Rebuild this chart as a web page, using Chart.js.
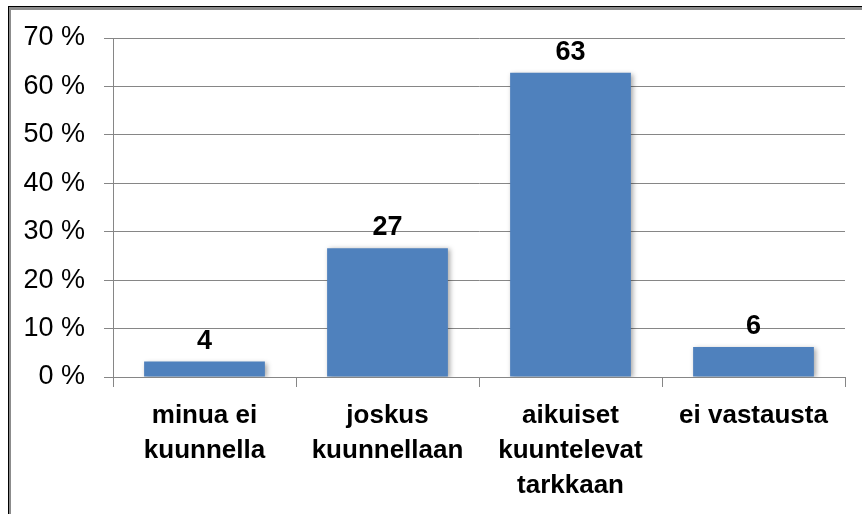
<!DOCTYPE html>
<html lang="fi">
<head>
  <meta charset="UTF-8" />
  <title>Kuunnellaanko minua</title>
  <script src="https://cdn.jsdelivr.net/npm/chart.js"></script>
  <style>
    html, body { margin: 0; padding: 0; background: #fff; overflow: hidden; }
    #wrap { position: relative; width: 862px; height: 514px; }
    #frame { position: absolute; left: 8px; top: 6px; width: 900px; height: 600px;
             border-left: 1px solid #000; border-top: 1px solid #000; pointer-events: none; }
    #frame div { width: 100%; height: 100%; border-left: 2px solid #8c8c8c; border-top: 3px solid #8c8c8c; }
  </style>
</head>
<body>
  <div id="wrap">
    <canvas id="chart" width="862" height="514"></canvas>
    <div id="frame"><div></div></div>
  </div>

  <script>
    // categories and values
    const categories = [
      ['minua ei', 'kuunnella'],
      ['joskus', 'kuunnellaan'],
      ['aikuiset', 'kuuntelevat', 'tarkkaan'],
      ['ei vastausta']
    ];
    const values = [3.2, 26.6, 62.8, 6.2];
    const valueLabels = ['4', '27', '63', '6'];
    const yTicks = [0, 10, 20, 30, 40, 50, 60, 70];

    const gridColor = '#868686';
    const fontFamily = '"Liberation Sans", Arial, sans-serif';

    // soft shadow round the bars
    const barShadow = {
      id: 'barShadow',
      beforeDatasetsDraw(chart) {
        const ctx = chart.ctx;
        ctx.save();
        ctx.shadowColor = 'rgba(0,0,0,0.35)';
        ctx.shadowBlur = 5;
        ctx.shadowOffsetX = 2;
        ctx.shadowOffsetY = 1;
      },
      afterDatasetsDraw(chart) {
        chart.ctx.restore();
      }
    };

    // value labels above each bar
    const valueLabelPlugin = {
      id: 'valueLabels',
      afterDraw(chart) {
        const ctx = chart.ctx;
        const meta = chart.getDatasetMeta(0);
        ctx.save();
        ctx.font = 'bold 27px ' + fontFamily;
        ctx.fillStyle = '#000';
        ctx.textAlign = 'center';
        ctx.textBaseline = 'alphabetic';
        meta.data.forEach((bar, i) => {
          ctx.fillText(valueLabels[i], bar.x, bar.y - 13);
        });
        ctx.restore();
      }
    };

    new Chart(document.getElementById('chart'), {
      type: 'bar',
      data: {
        labels: categories,
        datasets: [{
          data: values,
          backgroundColor: '#4F81BD',
          borderWidth: 0,
          barPercentage: 0.66,
          categoryPercentage: 1.0
        }]
      },
      options: {
        responsive: false,
        animation: false,
        layout: { padding: { left: 0, right: 17, top: 38, bottom: 0 } },
        plugins: {
          legend: { display: false },
          tooltip: { enabled: false }
        },
        scales: {
          x: {
            grid: { drawOnChartArea: false, drawTicks: true, tickLength: 10, color: gridColor, offset: true },
            border: { color: gridColor, width: 1 },
            ticks: {
              color: '#000',
              padding: 11,
              maxRotation: 0,
              autoSkip: false,
              font: { family: fontFamily, size: 26, weight: 'bold', lineHeight: 1.35 }
            },
            afterFit(scale) { scale.height = 137; }
          },
          y: {
            min: 0,
            max: 70,
            afterBuildTicks(scale) { scale.ticks = yTicks.map(v => ({ value: v })); },
            grid: { color: gridColor, tickLength: 9, drawTicks: true },
            border: { color: gridColor, width: 1 },
            ticks: {
              color: '#000',
              padding: 19,
              font: { family: fontFamily, size: 27 },
              callback: v => v + ' %'
            },
            afterFit(scale) { scale.width = 113; }
          }
        }
      },
      plugins: [barShadow, valueLabelPlugin]
    });
  </script>
</body>
</html>
